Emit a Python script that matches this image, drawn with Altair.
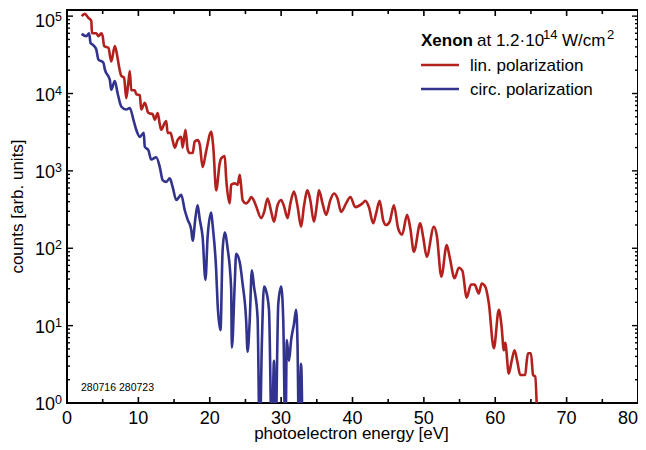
import altair as alt
import pandas as pd

# ---- data ----
energy_lin = [2.05, 2.5, 3.0, 3.4, 3.5, 4.1, 4.4, 4.8, 5.0, 5.2, 5.8, 6.2, 6.7, 7.0, 7.3, 7.6, 8.0, 8.3,
              8.6, 8.8, 9.0, 9.5, 9.7, 10.2, 10.4, 10.9, 11.4, 12.0, 12.3, 12.7, 13.0, 13.2, 13.7, 13.9,
              14.1, 14.5, 14.8, 15.1, 15.5, 16.0, 16.2, 16.6, 16.9, 17.2, 17.6, 17.9, 18.3, 18.6, 19.0,
              19.5, 20.2, 20.5, 20.9, 21.4, 21.6, 22.1, 22.3, 22.8, 23.0, 23.5, 23.9, 24.2, 24.4, 24.6,
              25.1, 25.5, 25.8, 26.2, 26.5, 27.2, 27.6, 28.1, 28.6, 29.0, 29.5, 30.0, 30.4, 30.9, 31.3,
              31.8, 32.3, 32.8, 33.2, 33.7, 34.1, 34.6, 35.0, 35.3, 35.8, 36.3, 36.9, 37.4, 37.9, 38.4,
              39.1, 39.7, 40.4, 41.4, 41.8, 42.3, 42.9, 43.3, 43.8, 44.3, 44.7, 45.2, 45.8, 46.4, 46.95,
              47.65, 48.1, 48.6, 49.5, 49.9, 50.4, 51.4, 51.8, 52.45, 53.2, 53.6, 54.3, 54.9, 55.4, 56.0,
              56.6, 57.1, 57.7, 58.1, 58.6, 59.1, 59.8, 60.5, 60.9, 61.2, 61.4, 61.9, 62.3, 62.7, 63.1,
              63.5, 64.2, 64.4, 64.6, 65.0, 65.3, 65.6, 65.9]
counts_lin = [100000, 107000, 95000, 87000, 60000, 60000, 55000, 60000, 55000, 41000, 39000, 26000,
              41000, 32000, 22000, 17000, 16000, 8700, 14000, 19500, 11000, 11000, 9800, 9500, 6200, 7600,
              5600, 5400, 4600, 5600, 4000, 3400, 4200, 4400, 3100, 3100, 2500, 2000, 2500, 2750, 2000,
              3400, 1900, 1700, 1700, 2400, 2500, 2200, 1120, 1800, 3200, 2000, 560, 1260, 1450, 1550, 800,
              380, 660, 690, 660, 890, 630, 420, 380, 410, 460, 410, 350, 245, 290, 440, 300, 220, 360, 420,
              350, 245, 380, 540, 350, 190, 350, 560, 410, 220, 360, 560, 380, 270, 420, 510, 440, 295, 380,
              460, 340, 380, 410, 340, 210, 280, 410, 230, 200, 220, 360, 180, 150, 270, 180, 90, 210, 140,
              78, 190, 148, 43, 110, 78, 41, 56, 51, 23, 34, 34, 26, 35, 32, 19.5, 5.1, 16, 9.5, 4.8, 6.0,
              2.4, 3.5, 4.8, 3.4, 2.3, 2.3, 3.4, 4.4, 4.4, 2.3, 2.2, 0.5]

energy_circ = [2.05, 2.7, 3.1, 3.3, 3.7, 4.1, 4.4, 5.1, 5.3, 6.0, 6.2, 6.7, 7.1, 7.6, 8.3, 8.8, 9.3, 9.7,
               10.2, 10.75, 10.9, 11.4, 11.8, 12.5, 13.0, 13.4, 13.9, 14.4, 14.8, 15.3, 16.0, 16.5, 16.9,
               17.4, 17.6, 18.0, 18.3, 18.6, 19.0, 19.4, 19.7, 20.2, 20.4, 20.9, 21.1, 21.5, 21.8, 22.1,
               22.5, 23.0, 23.1, 23.5, 23.7, 24.2, 24.6, 25.1, 25.3, 25.6, 25.9, 26.2, 26.7, 27.0, 27.3,
               27.6, 27.9, 28.3, 28.7, 29.0, 29.2, 29.6, 30.0, 30.3, 30.6, 30.8, 31.1, 31.4, 31.8, 32.1,
               32.3, 32.5, 32.8, 33.0]
counts_circ = [59000, 55000, 60000, 45000, 42000, 37000, 27500, 25000, 20500, 15000, 11200, 14500, 10000,
               6800, 6200, 6500, 4600, 3400, 2750, 3100, 2050, 1850, 1400, 1500, 1120, 760, 720, 800, 620,
               420, 490, 310, 235, 175, 125, 250, 360, 235, 140, 39, 140, 290, 200, 52, 19, 8.7, 93, 160,
               100, 30, 5.2, 35, 85, 66, 35, 11.7, 4.6, 11.7, 52, 32, 12.9, 0.3, 5.9, 32, 28, 16, 0.3, 3.5,
               0.3, 19, 32, 11.7, 0.3, 6.5, 3.5, 6.5, 10.5, 16, 5.6, 0.3, 3.2, 0.3]

series_names = ["lin. polarization", "circ. polarization"]
series_colors = ["#b3211e", "#31338c"]

x_major = [0, 10, 20, 30, 40, 50, 60, 70, 80]
x_labels = ["0", "10", "20", "30", "40", "50", "60", "70", "80"]
x_minor = [5, 15, 25, 35, 45, 55, 65, 75]
y_major = [1, 10, 100, 1000, 10000, 100000]
y_exponents = ["0", "1", "2", "3", "4", "5"]
y_minor = [m * d for d in [1, 10, 100, 1000, 10000] for m in range(2, 10)]

x_title = "photoelectron energy [eV]"
y_title = "counts [arb. units]"
title_bold = "Xenon"
title_rest = "at 1.2·10"
title_exp1 = "14"
title_unit = "W/cm"
title_exp2 = "2"
run_ids = "280716 280723"

W, H = 571, 393
FONT = "Liberation Sans"

df = pd.concat([
    pd.DataFrame({"E": energy_lin, "C": counts_lin, "series": series_names[0]}),
    pd.DataFrame({"E": energy_circ, "C": counts_circ, "series": series_names[1]}),
])

xs = alt.Scale(domain=[0, 80], nice=False, zero=False)
ys = alt.Scale(type="log", domain=[1, 120000], nice=False)

lines = alt.Chart(df).mark_line(clip=True, strokeWidth=2.6, strokeJoin="round",
                                interpolate="monotone").encode(
    x=alt.X("E:Q", scale=xs, axis=None),
    y=alt.Y("C:Q", scale=ys, axis=None),
    color=alt.Color("series:N", scale=alt.Scale(domain=series_names, range=series_colors), legend=None),
    detail="series:N",
)


def xticks(vals, length):
    d = pd.DataFrame({"v": vals})
    bottom = alt.Chart(d).mark_rule(color="black", strokeWidth=1.6).encode(
        x=alt.X("v:Q", scale=xs, axis=None), y=alt.value(H), y2=alt.value(H - length))
    top = alt.Chart(d).mark_rule(color="black", strokeWidth=1.6).encode(
        x=alt.X("v:Q", scale=xs, axis=None), y=alt.value(0), y2=alt.value(length))
    return [bottom, top]


def yticks(vals, length):
    d = pd.DataFrame({"v": vals})
    left = alt.Chart(d).mark_rule(color="black", strokeWidth=1.4).encode(
        y=alt.Y("v:Q", scale=ys, axis=None), x=alt.value(0), x2=alt.value(length))
    right = alt.Chart(d).mark_rule(color="black", strokeWidth=1.4).encode(
        y=alt.Y("v:Q", scale=ys, axis=None), x=alt.value(W), x2=alt.value(W - length))
    return [left, right]


tick_layers = xticks(x_major, 6) + xticks(x_minor, 4) + yticks(y_major, 6) + yticks(y_minor, 3)

xlab_df = pd.DataFrame({"v": x_major, "t": x_labels})
xlab = alt.Chart(xlab_df.iloc[:-1]).mark_text(align="center", baseline="alphabetic", fontSize=18,
                                              font=FONT, color="black").encode(
    x=alt.X("v:Q", scale=xs, axis=None), y=alt.value(H + 21), text="t:N")
# last label kept inside the page edge
xlab_last = alt.Chart(xlab_df.iloc[-1:]).mark_text(align="right", baseline="alphabetic", fontSize=18,
                                                   font=FONT, color="black").encode(
    x=alt.value(W), y=alt.value(H + 21), text="t:N")

ylab_df = pd.DataFrame({"v": y_major, "exp": y_exponents, "base": ["10"] * len(y_major)})


def ylabels(d, dy_base, dy_exp):
    base = alt.Chart(d).mark_text(align="right", baseline="middle", fontSize=18, font=FONT,
                                  color="black", dy=dy_base).encode(
        y=alt.Y("v:Q", scale=ys, axis=None), x=alt.value(-12), text="base:N")
    exp = alt.Chart(d).mark_text(align="left", baseline="middle", fontSize=12.5, font=FONT,
                                 color="black", dy=dy_exp).encode(
        y=alt.Y("v:Q", scale=ys, axis=None), x=alt.value(-12), text="exp:N")
    return [base, exp]


ylab_layers = ylabels(ylab_df.iloc[:-1], 2, -3) + ylabels(ylab_df.iloc[-1:], 6, 1)

ytitle = alt.Chart(pd.DataFrame({"t": [y_title]})).mark_text(
    angle=270, align="center", baseline="middle", fontSize=17, font=FONT, color="black").encode(
    x=alt.value(-49.5), y=alt.value(H / 2), text="t:N")
xtitle = alt.Chart(pd.DataFrame({"t": [x_title]})).mark_text(
    align="center", baseline="alphabetic", fontSize=17, font=FONT, color="black").encode(
    x=alt.value(W / 2 - 1), y=alt.value(H + 36), text="t:N")


def label(txt, x, y, size=17, weight="normal", align="left"):
    return alt.Chart(pd.DataFrame({"t": [txt]})).mark_text(
        align=align, baseline="alphabetic", fontSize=size, font=FONT, fontWeight=weight,
        color="black").encode(x=alt.value(x), y=alt.value(y), text="t:N")


legend_df = pd.DataFrame({"series": series_names, "color": series_colors})
leg_layers = []
for i, (name, col) in enumerate(zip(series_names, series_colors)):
    yy = 55 + 24 * i
    leg_layers.append(alt.Chart(legend_df.iloc[[i]]).mark_rule(color=col, strokeWidth=2.6).encode(
        x=alt.value(354), x2=alt.value(392), y=alt.value(yy)))
    leg_layers.append(label(name, 403, yy + 6))

title_layers = [
    label(title_bold, 354, 36, size=17, weight="bold"),
    label(title_rest, 410, 36),
    label(title_exp1, 476, 29, size=13),
    label(title_unit, 495, 36),
    label(title_exp2, 540, 29, size=13),
    label(run_ids, 14, 381, size=10.5),
]

chart = alt.layer(lines, *tick_layers, xlab, xlab_last, *ylab_layers, ytitle, xtitle,
                  *leg_layers, *title_layers).properties(
    width=W, height=H, autosize="none", background="white",
    padding={"left": 59, "top": 2, "right": 0, "bottom": 39},
).configure_view(stroke="black", strokeWidth=2)

chart.save("out.html", embed_options={"renderer": "svg", "actions": False})
